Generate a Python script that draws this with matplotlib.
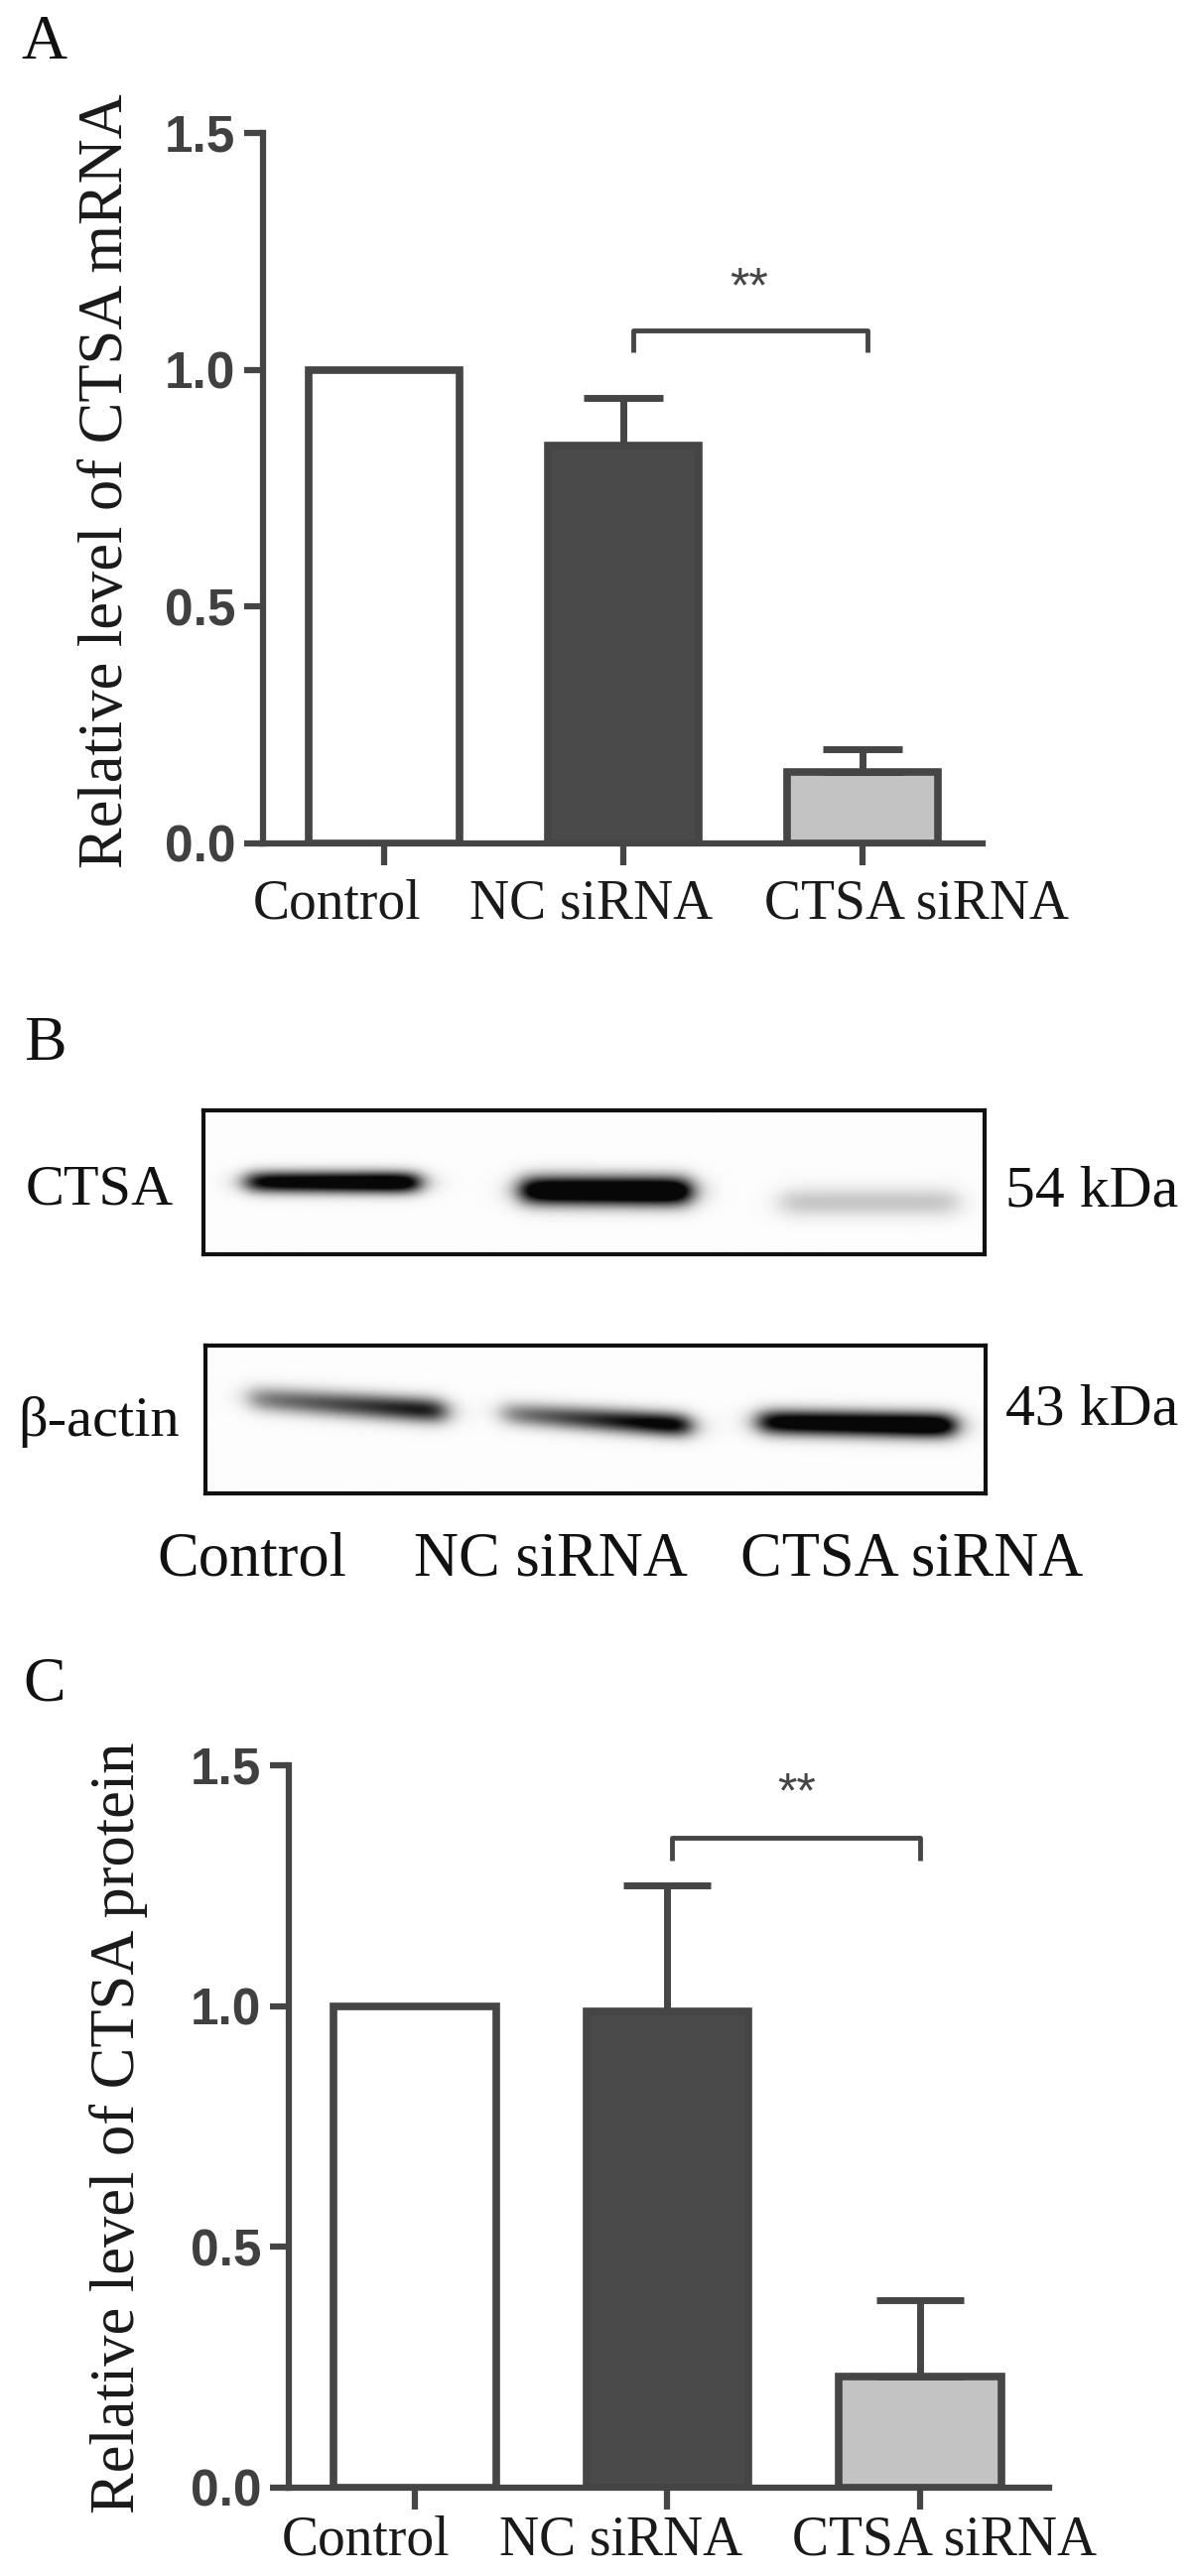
import numpy as np
import matplotlib
matplotlib.use('Agg')
import matplotlib.pyplot as plt

W, H = 1205, 2596

groups = ['Control', 'NC siRNA', 'CTSA siRNA']
mrna_mean = [1.0, 0.84, 0.15]
mrna_sd = [0.0, 0.10, 0.05]
protein_mean = [1.0, 0.99, 0.23]
protein_sd = [0.0, 0.26, 0.16]
yticks = [0.0, 0.5, 1.0, 1.5]
ytick_labels = ['0.0', '0.5', '1.0', '1.5']

# western blot band darkness per lane (read by eye)
ctsa_band = [1.25, 1.45, 0.22]
actin_band = [0.75, 0.85, 1.3]

bar_fill = ['white', '#4a4a4a', '#c3c3c3']
line_c = '#454545'
serif = ['Liberation Serif', 'DejaVu Serif']
sans = ['Liberation Sans', 'DejaVu Sans']


def px_box(x0, y0, x1, y1):
    return [x0 / W, 1 - y1 / H, (x1 - x0) / W, (y1 - y0) / H]


def bar_panel(ax, mean, sd, xlim, width, cap, label_x, label_y, bracket, star):
    x = np.arange(len(groups))
    ax.bar(x, mean, width=width, color=bar_fill, edgecolor=line_c,
           linewidth=5.5, zorder=2)
    ax.errorbar(x[1:], mean[1:], yerr=[[0] * 2, sd[1:]], fmt='none',
                ecolor=line_c, elinewidth=5, capsize=cap, capthick=5,
                zorder=3, clip_on=False)
    bx0, bx1, by0, by1 = bracket
    ax.plot([bx0, bx0, bx1, bx1], [by0, by1, by1, by0], color=line_c,
            lw=3.5, solid_capstyle='butt', clip_on=False)
    ax.text(star[0], star[1], '**', ha='center', va='center', fontsize=36,
            color=line_c, family=sans)
    ax.set_xlim(*xlim)
    ax.set_ylim(0, 1.5)
    ax.set_xticks(x)
    ax.set_xticklabels([])
    ax.set_yticks(yticks)
    ax.set_yticklabels(ytick_labels, family=sans, fontweight='bold',
                       fontsize=37, color='#404040')
    for s in ['top', 'right']:
        ax.spines[s].set_visible(False)
    for s in ['left', 'bottom']:
        ax.spines[s].set_linewidth(4.5)
        ax.spines[s].set_color(line_c)
    ax.tick_params(axis='y', length=14, width=4.5, color=line_c, pad=6)
    ax.tick_params(axis='x', length=16, width=4.5, color=line_c)
    ax.patch.set_alpha(0)
    for lx, g in zip(label_x, groups):
        ax.text(lx, label_y, g, ha='center', va='center', fontsize=40,
                family=serif, color='#1a1a1a', clip_on=False)


def blot(ax, band, centers, halfw, yc, slope, thick, grad):
    nx, ny = 790, 150
    xs = np.linspace(0, 1, nx)[None, :]
    ys = np.linspace(0, 1, ny)[:, None]
    dark = np.zeros((ny, nx))
    for b, c, hw, y0, sl, t, gr in zip(band, centers, halfw, yc, slope, thick, grad):
        e = 0.018
        hx = 0.5 * (np.tanh((xs - (c - hw)) / e) - np.tanh((xs - (c + hw)) / e))
        ramp = 1 + gr * (xs - c) / hw
        yy = y0 + sl * (xs - c)
        vy = np.exp(-((ys - yy) / t) ** 2)
        dark += b * hx * vy * ramp
    img = 0.99 - 0.96 * np.clip(dark, 0, 1)
    ax.imshow(img, cmap='gray', vmin=0, vmax=1, aspect='auto',
              extent=[0, 1, 1, 0], interpolation='bilinear')
    ax.set_xticks([])
    ax.set_yticks([])
    for s in ax.spines.values():
        s.set_linewidth(3)
        s.set_color('#111111')


fig = plt.figure(figsize=(W / 100, H / 100), dpi=100)

# panel A
axA = fig.add_axes(px_box(265, 134, 990, 850))
bar_panel(axA, mrna_mean, mrna_sd, (-0.506, 2.502), 0.63, 29,
          [-0.195, 0.867, 2.228], -0.128,
          (1.04, 2.02, 1.037, 1.083), (1.527, 1.17))
fig.text(108 / W, 1 - 485 / H, 'Relative level of CTSA mRNA', rotation=90,
         ha='center', va='center', fontsize=45, family=serif, color='#1a1a1a')

# panel B
axB1 = fig.add_axes(px_box(205, 1119, 992, 1264))
blot(axB1, ctsa_band, [0.165, 0.515, 0.853], [0.11, 0.108, 0.113],
     [0.50, 0.56, 0.64], [0.02, 0.03, 0.0], [0.075, 0.10, 0.10],
     [0.1, 0.05, 0.0])
axB2 = fig.add_axes(px_box(207, 1356, 993, 1505))
blot(axB2, actin_band, [0.181, 0.50, 0.835], [0.125, 0.12, 0.125],
     [0.40, 0.50, 0.53], [0.35, 0.35, 0.1], [0.085, 0.08, 0.085],
     [0.35, 0.45, 0.1])
fig.text(100 / W, 1 - 1200 / H, 'CTSA', ha='center', va='center',
         fontsize=42, family=serif, color='#111111')
fig.text(100 / W, 1 - 1433 / H, 'β-actin', ha='center', va='center',
         fontsize=42, family=serif, color='#111111')
fig.text(1013 / W, 1 - 1202 / H, '54 kDa', ha='left', va='center',
         fontsize=43, family=serif, color='#111111')
fig.text(1013 / W, 1 - 1422 / H, '43 kDa', ha='left', va='center',
         fontsize=43, family=serif, color='#111111')
for cx, g in zip([254, 555, 919], groups):
    fig.text(cx / W, 1 - 1572 / H, g, ha='center', va='center',
             fontsize=45, family=serif, color='#111111')

# panel C
axC = fig.add_axes(px_box(291, 1779, 1057, 2507))
bar_panel(axC, protein_mean, protein_sd, (-0.499, 2.511), 0.644, 31.5,
          [-0.193, 0.817, 2.098], -0.111,
          (1.018, 2.0, 1.302, 1.349), (1.51, 1.44))
fig.text(120 / W, 1 - 2144 / H, 'Relative level of CTSA protein', rotation=90,
         ha='center', va='center', fontsize=45, family=serif, color='#1a1a1a')

for lx, ly, t in [(44, 44, 'A'), (45, 1053, 'B'), (45, 1698, 'C')]:
    fig.text(lx / W, 1 - ly / H, t, ha='center', va='center', fontsize=46,
             family=serif, color='#111111')

fig.savefig('out.png', dpi=100)
